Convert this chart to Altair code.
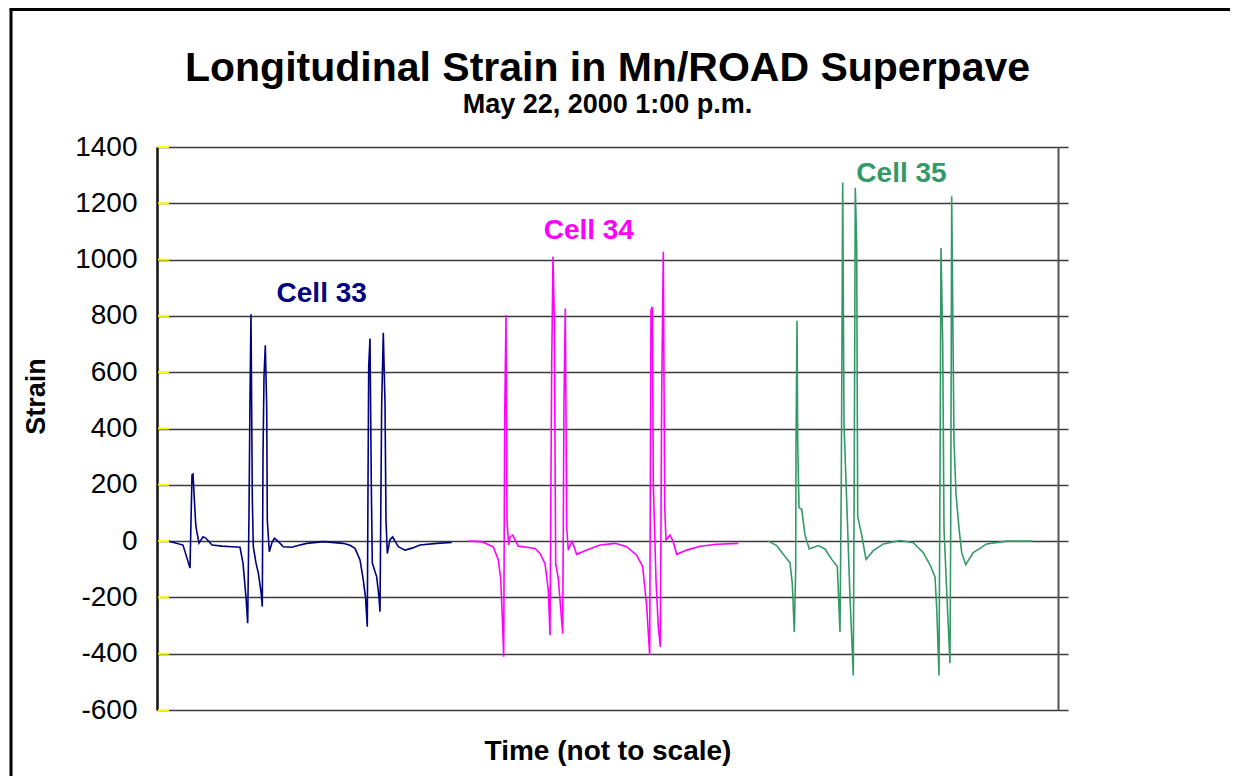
import altair as alt
import pandas as pd

# ---- data (time index is arbitrary, "not to scale") ----
series_names = ["Cell 33", "Cell 34", "Cell 35"]
series_colors = ["#000080", "#FF00FF", "#339966"]

cell33_t = [11, 26, 33, 35, 36, 38.7, 39.5, 42, 46, 49, 55, 65, 75, 83, 86, 89, 90.7, 92, 93, 94,
            95.3, 96.3, 99, 101.3, 104, 105.3, 106, 107, 108.3, 109.7, 110.3, 112.3, 115, 117.3,
            121, 126.3, 134.7, 142, 149.7, 166.3, 186.3, 193, 198, 203, 206.3, 208.5, 210.3, 211,
            211.7, 213, 214.3, 215.3, 219.7, 222, 223, 224, 224.7, 226.3, 228, 229, 230.3, 233,
            235.7, 238, 241.3, 248, 255, 263, 279.7, 294.7]
cell33_v = [0, -14, -96, 235, 238, 60, 40, -7, 15, 10, -14, -18, -20, -22, -78, -200, -292, 100, 513, 806,
            157, -20, -78, -113, -180, -233, 300, 584, 696, 477, 75, -38, -5, 10,
            0, -20, -22, -15, -8, -2, -8, -15, -26, -67, -139, -200, -304, 200,
            620, 720, 205, -78, -127, -200, -251, 200, 490, 740, 490, 75, -44, 5,
            15, 0, -20, -32, -25, -14, -8, -5]

cell34_t = [311.3, 324.7, 336.3, 341.3, 343.7, 345.3, 346.7, 347.7, 349, 350, 351.7, 353, 355.7, 358,
            361.3, 369.7, 378, 383, 388, 391.3, 393, 394.7, 396, 397.3, 398.7, 401.3, 405.7, 407,
            408.3, 409.7, 411.3, 413, 415.3, 419.7, 429.7, 443, 458, 469.7, 479.7, 485.7, 489.7,
            492.7, 494, 495.3, 496.3, 499, 501.3, 503.3, 504.7, 506.3, 507.7, 509, 513, 516, 519.7,
            529.7, 543, 559.7, 581.3]
cell34_v = [0, -2, -20, -67, -133, -269, -411, 442, 803, 69, -14, 15, 21, 5,
            -18, -22, -26, -44, -80, -174, -334, 631, 1010, 785, -80, -133, -328, 500,
            826, 51, -32, -15, -2, -47, -32, -14, -8, -20, -50, -91, -233,
            -405, 820, 832, 205, -139, -304, -376, 524, 1028, 122, 4, 21, 0, -47,
            -32, -18, -11, -8]

cell35_t = [611.3, 619.7, 626.3, 633, 635.3, 637.3, 638.7, 639, 640, 640.7, 642, 644.7, 648, 652.3,
            661.3, 668, 674.7, 680.3, 683, 684.3, 685.7, 687, 690.3, 693, 696.3, 697.3, 698.3,
            699.7, 700.7, 704.7, 709, 716.3, 726.3, 743, 756.3, 766.3, 773, 778, 779.7, 782, 783,
            784, 785.7, 787, 789.7, 793, 793.7, 794.7, 797, 799, 802, 804.7, 808.7, 816.3, 829.7,
            849.7, 875.7]
cell35_v = [0, -16, -47, -77, -151, -323, -102, 340, 783, 353, 119, 113, 21, -28,
            -16, -28, -65, -90, -323, 217, 1274, 414, 82, -200, -477, 291, 1255,
            1053, 88, 21, -65, -34, -10, 2, -6, -41, -84, -127, -237, -477, 230,
            1041, 709, 45, -176, -434, 45, 1225, 353, 168, 45, -41, -84, -41, -10,
            0, 0]

label_t = [164.7, 431.8, 744.5]
label_v = [878, 1101, 1304]

y_ticks = [-600, -400, -200, 0, 200, 400, 600, 800, 1000, 1200, 1400]

FONT = "Liberation Sans"

rows = []
for name, ts, vs in zip(series_names, [cell33_t, cell34_t, cell35_t], [cell33_v, cell34_v, cell35_v]):
    for t, v in zip(ts, vs):
        rows.append({"series": name, "t": t, "strain": v})
df = pd.DataFrame(rows)
labels_df = pd.DataFrame({"series": series_names, "t": label_t, "strain": label_v})
ticks_df = pd.DataFrame({"strain": y_ticks})
frame_df = pd.DataFrame({"k": [0]})

x_scale = alt.Scale(domain=[0, 901], nice=False, zero=False)
y_scale = alt.Scale(domain=[-600, 1400], nice=False, zero=False)
color_scale = alt.Scale(domain=series_names, range=series_colors)

x_axis = alt.Axis(title="Time (not to scale)", labels=False, ticks=False, domain=False,
                  grid=False, titleFont=FONT, titleFontSize=28, titleFontWeight="bold",
                  titleColor="black", titlePadding=27)

lines = alt.Chart(df).mark_line(strokeWidth=1.6).encode(
    x=alt.X("t:Q", scale=x_scale, axis=x_axis),
    y=alt.Y("strain:Q", scale=y_scale,
            axis=alt.Axis(title="Strain", values=y_ticks, grid=True, gridColor="#3a3a3a",
                          gridWidth=1.5, domainColor="#111111", domainWidth=2.5, ticks=False,
                          labelFont=FONT, labelFontSize=28, labelColor="black", labelPadding=20,
                          labelBaseline="middle", labelExpr="'' + datum.value",
                          titleFont=FONT, titleFontSize=27, titleFontWeight="bold",
                          titleColor="black", titleX=-121, titleY=249, titleBaseline="middle",
                          titleAngle=270)),
    color=alt.Color("series:N", scale=color_scale, legend=None),
    detail="series:N",
)

labels = alt.Chart(labels_df).mark_text(font=FONT, fontSize=28, fontWeight="bold",
                                        align="center", baseline="middle").encode(
    x=alt.X("t:Q", scale=x_scale, axis=x_axis),
    y=alt.Y("strain:Q", scale=y_scale, axis=None),
    text="series:N",
    color=alt.Color("series:N", scale=color_scale, legend=None),
)

yellow_ticks = alt.Chart(ticks_df).mark_rule(color="#FFFF00", strokeWidth=2).encode(
    x=alt.value(1), x2=alt.value(12),
    y=alt.Y("strain:Q", scale=y_scale, axis=None),
)

right_axis = alt.Chart(ticks_df).mark_tick(opacity=0).encode(
    y=alt.Y("strain:Q", scale=y_scale,
            axis=alt.Axis(orient="right", title=None, labels=False, values=y_ticks,
                          ticks=True, tickSize=10, tickColor="#3a3a3a", tickWidth=1.5,
                          domain=True, domainColor="#555555", domainWidth=2, grid=False)),
    x=alt.value(0),
)

frame_left = alt.Chart(frame_df).mark_rule(color="black", strokeWidth=3).encode(
    x=alt.value(-146), y=alt.value(-137.5), y2=alt.value(640))
frame_top = alt.Chart(frame_df).mark_rule(color="black", strokeWidth=3).encode(
    x=alt.value(-147.5), x2=alt.value(1100), y=alt.value(-137.5))

chart = alt.layer(lines, yellow_ticks, labels, right_axis, frame_left, frame_top).resolve_scale(
    y="independent"
).properties(
    width=901, height=563,
    autosize=alt.AutoSizeParams(type="none"),
    padding={"left": 149, "top": 139, "right": 172, "bottom": 66},
    title=alt.Title("Longitudinal Strain in Mn/ROAD Superpave",
                    subtitle="May 22, 2000 1:00 p.m.",
                    font=FONT, fontSize=41, fontWeight="bold", color="black",
                    subtitleFont=FONT, subtitleFontSize=27, subtitleFontWeight="bold",
                    subtitleColor="black", anchor="middle", frame="group",
                    offset=0, dy=111, subtitlePadding=2),
).configure_view(stroke=None).configure(background="white")

chart.save("out.html", embed_options={"renderer": "svg", "actions": False})
